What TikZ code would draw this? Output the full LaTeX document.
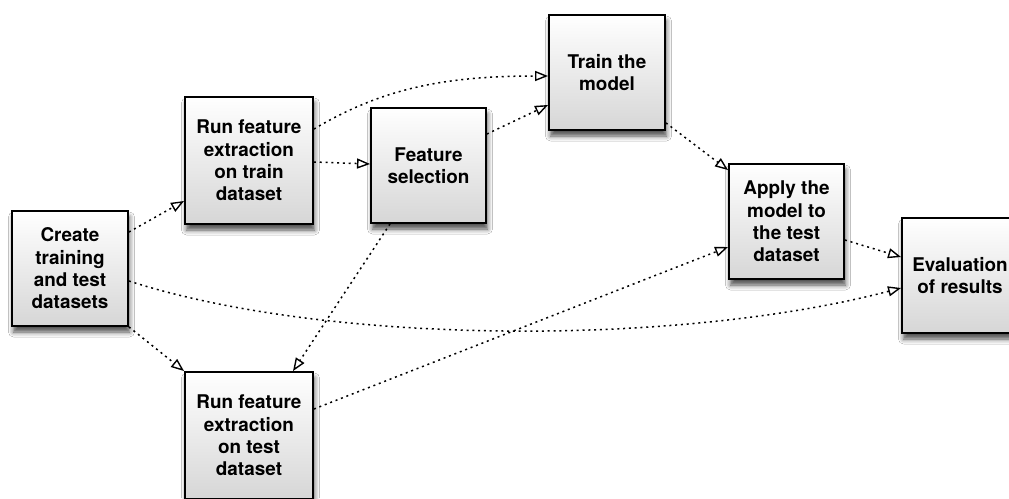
\documentclass[tikz,border=0pt]{standalone}
\usepackage{fontspec}
\setmainfont{TeX Gyre Heros}
\usetikzlibrary{arrows.meta,shadows.blur,calc}
\tikzset{
  box/.style={rectangle, draw=black, line width=1.9pt, top color=white, bottom color=black!16,
    blur shadow={shadow xshift=1.5pt, shadow yshift=-6pt, shadow blur radius=5pt, shadow opacity=70},
    font=\fontsize{18.9}{22.3}\selectfont\bfseries, align=center, inner sep=0pt, text=black},
  conn/.style={line width=1.5pt, dash pattern=on 2pt off 3.8pt,
    -{Triangle[open,length=13pt,width=10pt,line width=1.4pt]}}
}
\begin{document}
\begin{tikzpicture}[x=1pt,y=-1pt]
\useasboundingbox (0,0) rectangle (1009,498);
\fill[white] (0,0) rectangle (1009,498);
\clip (0,0) rectangle (1009,498);
\node[box, minimum width=116pt, minimum height=115pt] (create) at (70,268.5) {Create\\training\\and test\\datasets};
\node[box, minimum width=128pt, minimum height=127pt] (runtrain) at (249,160.5) {Run feature\\extraction\\on train\\dataset};
\node[box, minimum width=115pt, minimum height=115pt] (featsel) at (428.5,165.5) {Feature\\selection};
\node[box, minimum width=116pt, minimum height=115pt] (train) at (607,72.5) {Train the\\model};
\node[box, minimum width=115pt, minimum height=115pt] (apply) at (786.5,221.5) {Apply the\\model to\\the test\\dataset};
\node[box, minimum width=116pt, minimum height=115pt] (eval) at (960,275.5) {Evaluation\\of results};
\node[box, minimum width=128pt, minimum height=127pt] (runtest) at (249,435.5) {Run feature\\extraction\\on test\\dataset};

\draw[conn] ($(create.east)+(0,-36.5)$) -- ($(runtrain.west)+(0,40.5)$);
\draw[conn] ($(create.east)+(0,12.5)$) .. controls (330,346) and (680,346) .. ($(eval.west)+(0,12.5)$);
\draw[conn] (create.south east) -- (runtest.north west);
\draw[conn] ($(featsel.south)+(-38.5,0)$) -- ($(runtest.north)+(44,0)$);
\draw[conn] ($(runtest.east)+(0,-26.5)$) -- ($(apply.west)+(0,25.5)$);
\draw[conn] ($(runtrain.east)+(0,-31.5)$) .. controls (380,90) and (440,76) .. ($(train.west)+(0,3.5)$);
\draw[conn] ($(runtrain.east)+(0,1.5)$) -- ($(featsel.west)+(0,-1.5)$);
\draw[conn] ($(featsel.east)+(0,-31.5)$) -- ($(train.west)+(0,32.5)$);
\draw[conn] ($(train.south east)+(0,-8)$) -- ($(apply.north west)+(0,7)$);
\draw[conn] ($(apply.east)+(0,18.5)$) -- ($(eval.west)+(0,-18.5)$);
\end{tikzpicture}
\end{document}
